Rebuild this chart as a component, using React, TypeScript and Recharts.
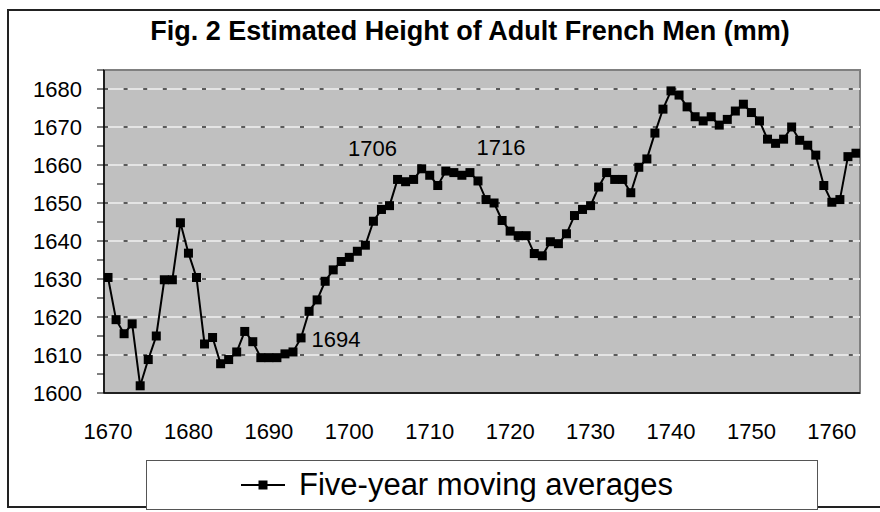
import React from 'react'
import {
  LineChart,
  Line,
  XAxis,
  YAxis,
  CartesianGrid,
  ReferenceLine,
  ReferenceArea,
  ReferenceDot,
  Legend
} from 'recharts'

const FONT = '"Liberation Sans", Arial, sans-serif'

// five-year moving averages, one value per year starting 1670
const startYear = 1670
const heights = [
  1630.4, 1619.3, 1615.6, 1618.2, 1601.9, 1608.8, 1615.0, 1629.8, 1629.8, 1644.8,
  1636.8, 1630.4, 1612.9, 1614.6, 1607.7, 1608.8, 1610.8, 1616.2, 1613.5, 1609.3,
  1609.3, 1609.3, 1610.3, 1610.8, 1614.5, 1621.5, 1624.5, 1629.4, 1632.4, 1634.6,
  1635.7, 1637.3, 1638.9, 1645.2, 1648.3, 1649.3, 1656.2, 1655.6, 1656.2, 1659.0,
  1657.3, 1654.6, 1658.4, 1658.0, 1657.3, 1658.0, 1655.8, 1650.9, 1650.0, 1645.4,
  1642.6, 1641.4, 1641.4, 1636.7, 1636.1, 1639.8, 1639.3, 1641.9, 1646.7, 1648.3,
  1649.3, 1654.2, 1658.0, 1656.2, 1656.2, 1652.7, 1659.4, 1661.6, 1668.4, 1674.7,
  1679.5, 1678.4, 1675.3, 1672.7, 1671.6, 1672.7, 1670.5, 1672.0, 1674.2, 1676.0,
  1673.8, 1671.6, 1666.8, 1665.7, 1666.8, 1670.0, 1666.5, 1665.2, 1662.6, 1654.6,
  1650.2, 1650.9, 1662.2, 1663.1
]

const yTicks = [1600, 1605, 1610, 1615, 1620, 1625, 1630, 1635, 1640, 1645, 1650, 1655, 1660, 1665, 1670, 1675, 1680, 1685]
const gridValues = [1610, 1620, 1630, 1640, 1650, 1660, 1670, 1680]
const xTickMarks = [1669.5, 1674.5, 1679.5, 1684.5, 1689.5, 1694.5, 1699.5, 1704.5, 1709.5, 1714.5, 1719.5, 1724.5, 1729.5, 1734.5, 1739.5, 1744.5, 1749.5, 1754.5, 1759.5]
const xLabels = [1670, 1680, 1690, 1700, 1710, 1720, 1730, 1740, 1750, 1760]
const noteYears = [1694, 1706, 1716]

const data = heights.map((h, i) => ({ year: startYear + i, height: h }))
const xDomain = [startYear - 0.5, startYear + heights.length - 0.5]

// where each year note sits relative to its point
const noteOffset: Record<number, [number, number]> = {
  1694: [35, 2],
  1706: [-25, -31],
  1716: [23, -33]
}

const Square = (props: any) => {
  const { cx, cy } = props
  if (cx == null || cy == null) return null
  return <rect x={cx - 4.5} y={cy - 4.5} width={9} height={9} fill="#000" />
}

const LegendBox = () => (
  <div
    style={{
      boxSizing: 'border-box',
      width: '100%',
      height: '100%',
      border: '1px solid #555',
      background: '#fff',
      display: 'flex',
      alignItems: 'center',
      paddingLeft: 94,
      fontFamily: FONT,
      fontSize: 31
    }}
  >
    <svg width={44} height={12} style={{ marginRight: 14 }}>
      <line x1={0} y1={6} x2={44} y2={6} stroke="#000" strokeWidth={2} />
      <rect x={17.5} y={1.5} width={9} height={9} fill="#000" />
    </svg>
    <span>Five-year moving averages</span>
  </div>
)

export default function App() {
  const tickStyle = { fill: '#000', fontSize: 22, fontFamily: FONT }

  return (
    <div style={{ position: 'fixed', left: 0, top: 0, width: 880, height: 512, background: '#fff', overflow: 'hidden' }}>
      <div
        style={{
          position: 'absolute',
          left: 7,
          top: 9,
          width: 885,
          height: 499,
          border: '2px solid #222',
          boxSizing: 'border-box'
        }}
      />
      <div
        style={{
          position: 'absolute',
          left: 0,
          width: 940,
          top: 16,
          textAlign: 'center',
          fontFamily: FONT,
          fontWeight: 'bold',
          fontSize: 27
        }}
      >
        Fig. 2 Estimated Height of Adult French Men (mm)
      </div>
      <div style={{ position: 'absolute', left: 0, top: 0 }}>
        <LineChart width={880} height={512} data={data} margin={{ top: 70, right: 20, left: 0, bottom: 71 }}>
          <CartesianGrid horizontal={false} vertical={false} fill="#c0c0c0" />
          <ReferenceArea
            x1={xDomain[0]}
            x2={xDomain[1]}
            y1={1600}
            y2={1685}
            fill="none"
            stroke="#808080"
            strokeWidth={2}
            ifOverflow="visible"
          />
          {gridValues.map(v => (
            <ReferenceLine key={`g${v}`} y={v} stroke="#e4e4e4" strokeWidth={2} />
          ))}
          {gridValues.map(v => (
            <ReferenceLine key={`d${v}`} y={v} stroke="#5a5a5a" strokeWidth={2} strokeDasharray="4 15.6" />
          ))}
          <XAxis
            dataKey="year"
            type="number"
            domain={xDomain}
            allowDataOverflow
            ticks={xTickMarks}
            interval={0}
            tick={false}
            tickSize={8}
            height={8}
            axisLine={{ stroke: '#000', strokeWidth: 1.5 }}
            tickLine={{ stroke: '#000' }}
          />
          <XAxis
            xAxisId="labels"
            dataKey="year"
            type="number"
            domain={xDomain}
            allowDataOverflow
            ticks={xLabels}
            interval={0}
            tick={tickStyle}
            tickSize={0}
            tickMargin={22}
            height={40}
            axisLine={false}
            tickLine={false}
          />
          <YAxis
            type="number"
            domain={[1600, 1685]}
            allowDataOverflow
            ticks={yTicks}
            interval={0}
            width={104}
            tickSize={7}
            tickMargin={15}
            tick={tickStyle}
            tickFormatter={(v: number) => (v % 10 === 0 ? String(v) : '')}
            axisLine={{ stroke: '#000', strokeWidth: 1.5 }}
            tickLine={{ stroke: '#000' }}
          />
          <Line
            dataKey="height"
            name="Five-year moving averages"
            stroke="#000"
            strokeWidth={2}
            dot={<Square />}
            activeDot={false}
            isAnimationActive={false}
          />
          {noteYears.map(y => (
            <ReferenceDot
              key={y}
              x={y}
              y={heights[y - startYear]}
              r={0}
              shape={(p: any) => (
                <text
                  x={p.cx + noteOffset[y][0]}
                  y={p.cy + noteOffset[y][1]}
                  textAnchor="middle"
                  dominantBaseline="central"
                  fontFamily={FONT}
                  fontSize={22}
                  fill="#000"
                >
                  {y}
                </text>
              )}
            />
          ))}
          <Legend
            layout="horizontal"
            verticalAlign="middle"
            align="center"
            wrapperStyle={{ left: 146, top: 460, width: 672, height: 50 }}
            content={() => <LegendBox />}
          />
        </LineChart>
      </div>
    </div>
  )
}
